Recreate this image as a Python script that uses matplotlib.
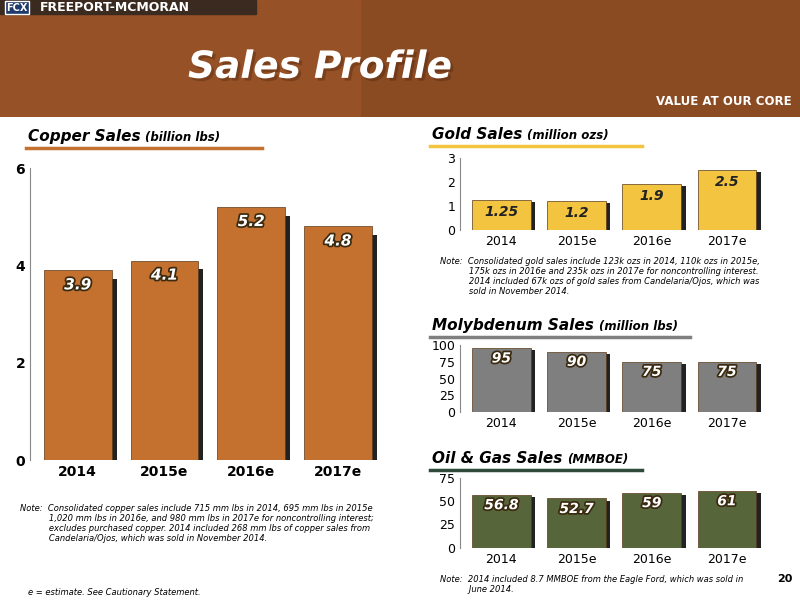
import matplotlib.pyplot as plt
import matplotlib.patheffects as pe
from matplotlib.patches import Rectangle

years = ['2014', '2015e', '2016e', '2017e']
copper = [3.9, 4.1, 5.2, 4.8]
gold = [1.25, 1.2, 1.9, 2.5]
gold_lbl = ['1.25', '1.2', '1.9', '2.5']
moly = [95, 90, 75, 75]
oil = [56.8, 52.7, 59, 61]

fig = plt.figure(figsize=(8, 6), dpi=100)
fig.patch.set_facecolor('white')

# header band
hdr = fig.add_axes([0, 0.805, 1, 0.195])
hdr.set_xlim(0, 1); hdr.set_ylim(0, 1); hdr.axis('off')
hdr.add_patch(Rectangle((0, 0), 1, 1, color='#8a4a22'))
hdr.add_patch(Rectangle((0, 0), 0.45, 1, color='#a0562a', alpha=0.6))
hdr.add_patch(Rectangle((0, 0.88), 0.32, 0.12, color='#3a2a20'))
hdr.text(0.008, 0.935, 'FCX', color='white', fontsize=7, weight='bold', va='center',
         bbox=dict(facecolor='#1f3a6b', edgecolor='white', pad=1))
hdr.text(0.05, 0.935, 'FREEPORT-MCMORAN', color='white', fontsize=9, weight='bold', va='center')
hdr.text(0.235, 0.42, 'Sales Profile', color='white', fontsize=27, weight='bold', style='italic',
         va='center', path_effects=[pe.withSimplePatchShadow(offset=(2, -2), shadow_rgbFace='#3a1a08')])
hdr.text(0.99, 0.13, 'VALUE AT OUR CORE', color='white', fontsize=8.5, weight='bold', ha='right', va='center')

lblfx = [pe.withStroke(linewidth=2.5, foreground='#3a2a10')]


def bars(ax, vals, color, labels, ymax, yticks, fs, lpos, lblsize):
    x = range(len(vals))
    ax.bar([i + 0.06 for i in x], vals, width=0.78, color='#222222', zorder=1,
           bottom=[-ymax * 0.03] * len(vals))
    ax.bar(x, vals, width=0.78, color=color, edgecolor='#5a3a1a', linewidth=0.5, zorder=2)
    for i, v in enumerate(vals):
        ax.text(i, v - ymax * lpos, labels[i], ha='center', va='center', color='white',
                fontsize=lblsize, weight='bold', style='italic', path_effects=lblfx, zorder=3)
    ax.set_ylim(0, ymax)
    ax.set_xlim(-0.55, 3.6)
    ax.set_yticks(yticks)
    ax.set_xticks(list(x))
    ax.set_xticklabels(years)
    ax.tick_params(labelsize=fs, length=0)
    for s in ['top', 'right', 'bottom']:
        ax.spines[s].set_visible(False)
    ax.spines['left'].set_color('#888888')


ax1 = fig.add_axes([0.0375, 0.233, 0.45, 0.487])
bars(ax1, copper, '#c4702e', [str(v) for v in copper], 6, [0, 2, 4, 6], 10, 0.05, 11)
for t in ax1.get_xticklabels() + ax1.get_yticklabels():
    t.set_weight('bold')

ax2 = fig.add_axes([0.575, 0.617, 0.39, 0.12])
bars(ax2, gold, '#f3c43f', gold_lbl, 3, [0, 1, 2, 3], 9, 0.17, 10)
for t in ax2.texts:
    t.set_color('#222222'); t.set_path_effects([])

ax3 = fig.add_axes([0.575, 0.313, 0.39, 0.112])
bars(ax3, moly, '#7f7f7f', [str(v) for v in moly], 100, [0, 25, 50, 75, 100], 9, 0.15, 10)

ax4 = fig.add_axes([0.575, 0.087, 0.39, 0.117])
bars(ax4, oil, '#56653a', [str(v) for v in oil], 75, [0, 25, 50, 75], 9, 0.15, 10)

renderer = fig.canvas.get_renderer()


# section titles with underline
def title(x, y, main, sub, lc, w):
    t = fig.text(x, y, main, fontsize=11, weight='bold', style='italic', color='black')
    bb = t.get_window_extent(renderer)
    fig.text(bb.x1 / 800 + 0.006, y, sub, fontsize=8.5, weight='bold', style='italic')
    fig.add_artist(plt.Line2D([x - 0.003, x - 0.003 + w], [y - 0.012, y - 0.012], color=lc, lw=2.5))

title(0.035, 0.765, 'Copper Sales', '(billion lbs)', '#c4702e', 0.295)
title(0.54, 0.768, 'Gold Sales', '(million ozs)', '#f3c43f', 0.265)
title(0.54, 0.45, 'Molybdenum Sales', '(million lbs)', '#7f7f7f', 0.325)
title(0.54, 0.228, 'Oil & Gas Sales', '(MMBOE)', '#2e4a3a', 0.265)

nfs = 6.0
fig.text(0.55, 0.572, 'Note:  Consolidated gold sales include 123k ozs in 2014, 110k ozs in 2015e,\n'
         '           175k ozs in 2016e and 235k ozs in 2017e for noncontrolling interest.\n'
         '           2014 included 67k ozs of gold sales from Candelaria/Ojos, which was\n'
         '           sold in November 2014.', fontsize=nfs, style='italic', va='top', linespacing=1.15)
fig.text(0.025, 0.16, 'Note:  Consolidated copper sales include 715 mm lbs in 2014, 695 mm lbs in 2015e\n'
         '           1,020 mm lbs in 2016e, and 980 mm lbs in 2017e for noncontrolling interest;\n'
         '           excludes purchased copper. 2014 included 268 mm lbs of copper sales from\n'
         '           Candelaria/Ojos, which was sold in November 2014.', fontsize=nfs, style='italic',
         va='top', linespacing=1.15)
fig.text(0.55, 0.042, 'Note:  2014 included 8.7 MMBOE from the Eagle Ford, which was sold in\n'
         '           June 2014.', fontsize=nfs, style='italic', va='top', linespacing=1.15)
fig.text(0.035, 0.008, 'e = estimate. See Cautionary Statement.', fontsize=nfs, style='italic')
fig.text(0.99, 0.03, '20', fontsize=8, weight='bold', ha='right')

fig.savefig('out.png', dpi=100)
